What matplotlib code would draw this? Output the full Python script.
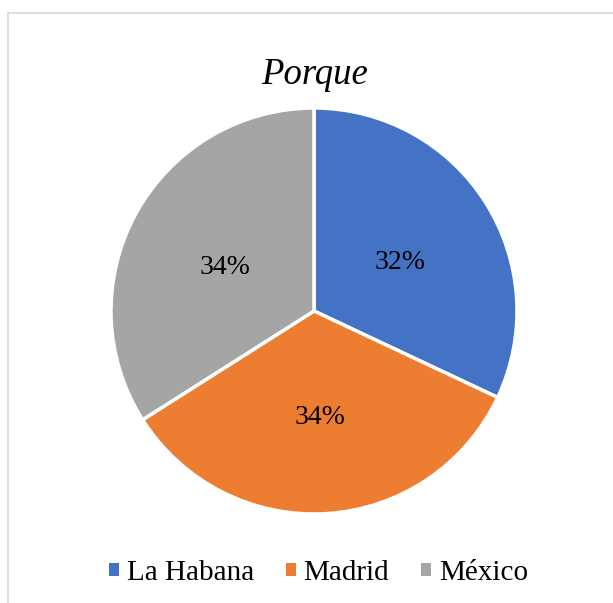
import matplotlib.pyplot as plt
from matplotlib.lines import Line2D
from matplotlib.patches import Patch

cities = ['La Habana', 'Madrid', 'México']
shares = [32, 34, 34]
colors = ['#4472C4', '#ED7D31', '#A5A5A5']

plt.rcParams['font.family'] = ['Liberation Serif', 'DejaVu Serif']

W, H = 613, 603
fig = plt.figure(figsize=(W / 100, H / 100), dpi=100)

# pie centre and radius in pixels
cx, cy, r = 314, 311, 203
ax = fig.add_axes([(cx - r) / W, (H - cy - r) / H, 2 * r / W, 2 * r / H])
wedges, texts, autotexts = ax.pie(
    shares, colors=colors, startangle=90, counterclock=False,
    autopct='%1.0f%%', pctdistance=0.5,
    wedgeprops=dict(edgecolor='white', linewidth=2.5),
    textprops=dict(fontsize=20, color='black'))
# put the digits' visual centre on the label point
for t in autotexts:
    x, y = t.get_position()
    t.set_verticalalignment('baseline')
    t.set_position((x, y - 0.06))
ax.set_xlim(-1, 1)
ax.set_ylim(-1, 1)
ax.set_aspect('equal')
ax.axis('off')

fig.text(315 / W, (H - 84) / H, 'Porque', ha='center', va='baseline',
         fontsize=26.5, style='italic')

# chart frame (only top and left edges fall inside the picture)
fig.add_artist(Line2D([8 / W, 1], [(H - 13) / H] * 2, color='#D9D9D9', lw=1.2))
fig.add_artist(Line2D([8 / W] * 2, [0, (H - 13) / H], color='#D9D9D9', lw=1.2))

handles = [Patch(facecolor=c, edgecolor='none') for c in colors]
fig.legend(handles, cities, loc='center', bbox_to_anchor=(318.5 / W, (H - 573) / H),
           ncol=3, frameon=False, fontsize=21, handlelength=0.35, handleheight=0.35,
           handletextpad=0.25, columnspacing=1.1)

fig.savefig('out.png', dpi=100)
